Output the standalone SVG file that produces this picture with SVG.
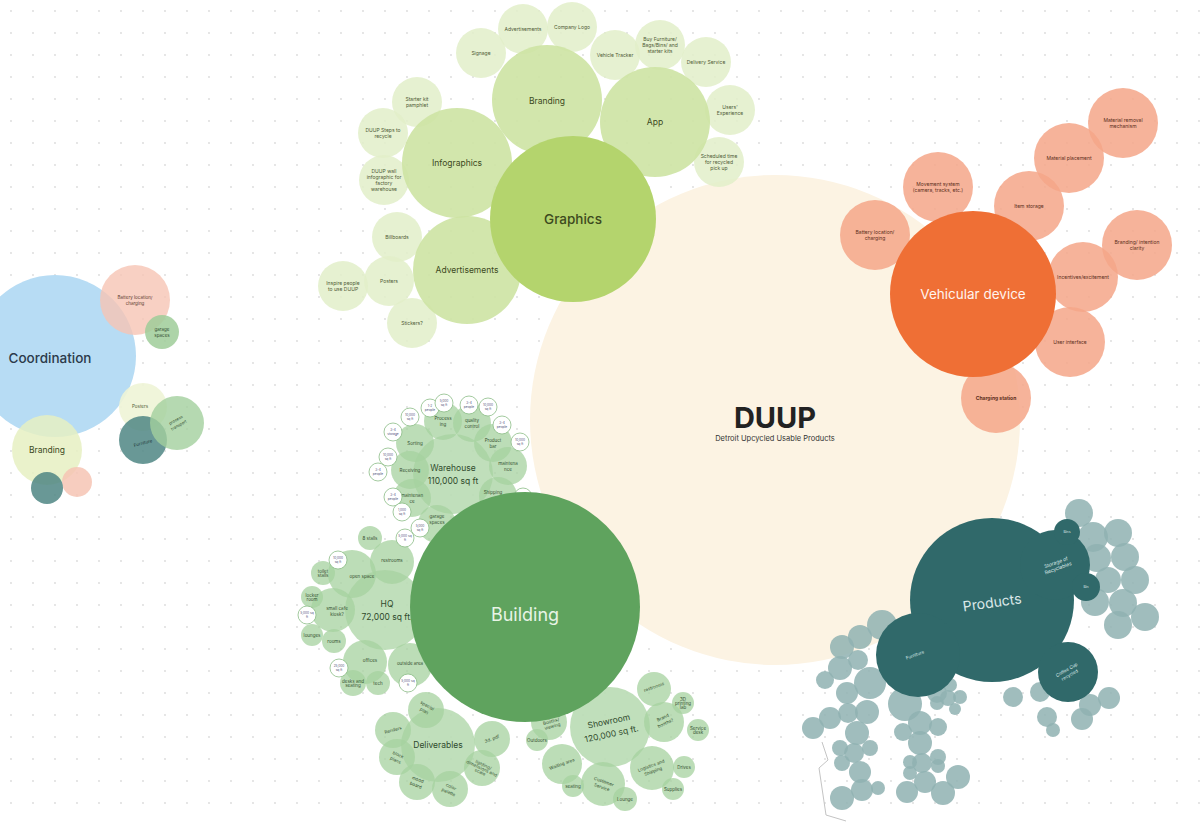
<svg xmlns="http://www.w3.org/2000/svg" width="1202" height="823" viewBox="0 0 1202 823">
<defs>
<pattern id="dots" width="22" height="22" patternUnits="userSpaceOnUse">
<circle cx="11" cy="11" r="0.9" fill="#dadada"/>
</pattern>
</defs>
<style>
text{font-family:Inter,"Noto Sans","Liberation Sans",sans-serif;text-anchor:middle;dominant-baseline:central}
.gM{fill:#b4d46d}.gS{fill:#cde3a3;opacity:.9}.gL{fill:#e2eec9;opacity:.85}
.tg{fill:#3d4a1e}.tgl{fill:#4f5a35;font-size:5px}
.vM{fill:#ef6f35}.vL{fill:#f4a688;opacity:.85}.tvl{fill:#5b2d1a;font-size:5px}
.bM{fill:#5fa35e}.bS{fill:#b9dbb4;opacity:.9}.bL{fill:#a6d19f;opacity:.75}.bW{fill:#fff;stroke:#8cbc86;stroke-width:.8}
.tb{fill:#2f4a2c}.tbl{fill:#34502f;font-size:4.5px}.tbw{fill:#4c4f78;font-size:3.2px}
.pM{fill:#30696a}.pL{fill:#8fb1b1;opacity:.85}.tp{fill:#dbe8e8}
</style>
<rect width="1202" height="823" fill="#fff"/>
<rect width="1202" height="823" fill="url(#dots)"/>

<g id="duup">
<circle cx="775" cy="420" r="245" fill="#fcf3e3"/>
</g>

<g id="connectors"></g>

<g id="graphics-cluster">
<circle class="gL" cx="481" cy="53" r="25"/>
<circle class="gL" cx="523" cy="29" r="25"/>
<circle class="gL" cx="572" cy="27" r="25"/>
<circle class="gL" cx="615" cy="55" r="25"/>
<circle class="gL" cx="660" cy="45" r="25"/>
<circle class="gL" cx="706" cy="62" r="25"/>
<circle class="gL" cx="730" cy="110" r="25"/>
<circle class="gL" cx="719" cy="162" r="25"/>
<circle class="gL" cx="417" cy="102" r="25"/>
<circle class="gL" cx="383" cy="133" r="25"/>
<circle class="gL" cx="384" cy="180" r="25"/>
<circle class="gL" cx="397" cy="237" r="25"/>
<circle class="gL" cx="389" cy="281" r="25"/>
<circle class="gL" cx="343" cy="286" r="25"/>
<circle class="gL" cx="412" cy="323" r="25"/>
<text class="tgl" x="481" y="53">Signage</text>
<text class="tgl" x="523" y="29">Advertisements</text>
<text class="tgl" x="572" y="27">Company Logo</text>
<text class="tgl" x="615" y="55">Vehicle Tracker</text>
<text class="tgl"><tspan x="660" y="39">Buy Furniture/</tspan><tspan x="660" y="45">Bags/Bins/ and</tspan><tspan x="660" y="51">starter kits</tspan></text>
<text class="tgl" x="706" y="62">Delivery Service</text>
<text class="tgl"><tspan x="730" y="107">Users'</tspan><tspan x="730" y="113">Experience</tspan></text>
<text class="tgl"><tspan x="719" y="156">Scheduled time</tspan><tspan x="719" y="162">for recycled</tspan><tspan x="719" y="168">pick up</tspan></text>
<text class="tgl"><tspan x="417" y="99">Starter kit</tspan><tspan x="417" y="105">pamphlet</tspan></text>
<text class="tgl"><tspan x="383" y="130">DUUP Steps to</tspan><tspan x="383" y="136">recycle</tspan></text>
<text class="tgl"><tspan x="384" y="171">DUUP wall</tspan><tspan x="384" y="177">infographic for</tspan><tspan x="384" y="183">factory</tspan><tspan x="384" y="189">warehouse</tspan></text>
<text class="tgl" x="397" y="237">Billboards</text>
<text class="tgl" x="389" y="281">Posters</text>
<text class="tgl"><tspan x="343" y="283">Inspire people</tspan><tspan x="343" y="289">to use DUUP</tspan></text>
<text class="tgl" x="412" y="323">Stickers?</text>
</g>
<g id="branding">
<circle class="gS" cx="547" cy="100" r="55"/>
<text class="tg" x="547" y="101" font-size="8.5">Branding</text>
</g>
<g id="app">
<circle class="gS" cx="655" cy="122" r="55"/>
<text class="tg" x="655" y="122" font-size="8.5">App</text>
</g>
<g id="infographics">
<circle class="gS" cx="457" cy="163" r="55"/>
<text class="tg" x="457" y="163" font-size="8.5">Infographics</text>
</g>
<g id="advertisements">
<circle class="gS" cx="467" cy="270" r="54"/>
<text class="tg" x="467" y="270" font-size="8.5">Advertisements</text>
</g>
<g id="graphics">
<circle class="gM" cx="573" cy="219" r="83"/>
<text class="tg" x="573" y="219" font-size="13.5" font-weight="500">Graphics</text>
</g>

<g id="vehicular-cluster">
<circle class="vL" cx="875" cy="235" r="35"/>
<circle class="vL" cx="938" cy="187" r="35"/>
<circle class="vL" cx="1029" cy="206" r="35"/>
<circle class="vL" cx="1069" cy="158" r="35"/>
<circle class="vL" cx="1123" cy="123" r="35"/>
<circle class="vL" cx="1137" cy="245" r="35"/>
<circle class="vL" cx="1083" cy="277" r="35"/>
<circle class="vL" cx="1070" cy="342" r="35"/>
<circle class="vL" cx="996" cy="398" r="35"/>
<text class="tvl"><tspan x="875" y="232">Battery location/</tspan><tspan x="875" y="238">charging</tspan></text>
<text class="tvl"><tspan x="938" y="184">Movement system</tspan><tspan x="938" y="190">(camera, tracks, etc.)</tspan></text>
<text class="tvl" x="1029" y="206">Item storage</text>
<text class="tvl" x="1069" y="158">Material placement</text>
<text class="tvl"><tspan x="1123" y="120">Material removal</tspan><tspan x="1123" y="126">mechanism</tspan></text>
<text class="tvl"><tspan x="1137" y="242">Branding/ intention</tspan><tspan x="1137" y="248">clarity</tspan></text>
<text class="tvl" x="1083" y="277">Incentives/excitement</text>
<text class="tvl" x="1070" y="342">User interface</text>
<text class="tvl" x="996" y="398" font-weight="700">Charging station</text>
</g>
<g id="vehicular-device">
<circle class="vM" cx="973" cy="294" r="83"/>
<text x="973" y="294" font-size="13.5" fill="#fff4ee">Vehicular device</text>
</g>

<g id="coordination-cluster">
<circle cx="55" cy="356" r="81" fill="#b7dcf4"/>
<text x="50" y="358" font-size="13.5" fill="#2b3a4a" font-weight="500">Coordination</text>
<circle cx="135" cy="300" r="35" fill="#f6c4b4" opacity=".8"/>
<text fill="#5b3a2e" font-size="4.5"><tspan x="135" y="297">Battery location/</tspan><tspan x="135" y="303">charging</tspan></text>
<circle cx="162" cy="332" r="17" fill="#9fcd99" opacity=".85"/>
<text fill="#2f4a2c" font-size="4.5"><tspan x="162" y="329">garage</tspan><tspan x="162" y="335">spaces</tspan></text>
<circle cx="143" cy="407" r="24" fill="#eef4d6" opacity=".9"/>
<text x="140" y="406" fill="#4f5a35" font-size="4.5">Posters</text>
<circle cx="143" cy="440" r="24" fill="#4f8684" opacity=".85"/>
<circle cx="177" cy="423" r="27" fill="#a3d09d" opacity=".8"/>
<text fill="#2f4a2c" font-size="4" transform="rotate(-30 177 422)"><tspan x="177" y="419">process</tspan><tspan x="177" y="425">transport</tspan></text>
<text x="143" y="443" fill="#1f3a3a" font-size="4.5" transform="rotate(-15 143 443)">Furniture</text>
<circle cx="47" cy="450" r="35" fill="#e6f0c2" opacity=".85"/>
<text x="47" y="450" fill="#3d4a1e" font-size="8.5">Branding</text>
<circle cx="77" cy="482" r="15" fill="#f6c4b4" opacity=".85"/>
<circle cx="47" cy="488" r="16" fill="#4f8684" opacity=".85"/>
</g>

<g id="warehouse">
<circle class="bS" cx="453" cy="474" r="40"/>
<circle class="bL" cx="415" cy="443" r="19"/>
<circle class="bL" cx="443" cy="421" r="19"/>
<circle class="bL" cx="472" cy="423" r="19"/>
<circle class="bL" cx="493" cy="443" r="19"/>
<circle class="bL" cx="508" cy="466" r="19"/>
<circle class="bL" cx="498" cy="496" r="19"/>
<circle class="bL" cx="437" cy="524" r="19"/>
<circle class="bL" cx="412" cy="498" r="19"/>
<circle class="bL" cx="410" cy="470" r="19"/>
<text class="tb" font-size="8.5"><tspan x="453" y="468">Warehouse</tspan><tspan x="453" y="481">110,000 sq ft</tspan></text>
<text class="tbl" x="415" y="443">Sorting</text>
<text class="tbl"><tspan x="443" y="418">Process</tspan><tspan x="443" y="424">ing</tspan></text>
<text class="tbl"><tspan x="472" y="420">quality</tspan><tspan x="472" y="426">control</tspan></text>
<text class="tbl"><tspan x="493" y="440">Product</tspan><tspan x="493" y="446">bar</tspan></text>
<text class="tbl"><tspan x="508" y="463">maintena</tspan><tspan x="508" y="469">nce</tspan></text>
<text class="tbl" x="493" y="492">Shipping</text>
<text class="tbl"><tspan x="437" y="516">garage</tspan><tspan x="437" y="522">spaces</tspan></text>
<text class="tbl"><tspan x="412" y="495">maintenan</tspan><tspan x="412" y="501">ce</tspan></text>
<text class="tbl" x="410" y="470">Receiving</text>
<circle class="bW" cx="393" cy="432" r="9"/>
<circle class="bW" cx="410" cy="417" r="9"/>
<circle class="bW" cx="430" cy="408" r="9"/>
<circle class="bW" cx="444" cy="403" r="9"/>
<circle class="bW" cx="469" cy="405" r="9"/>
<circle class="bW" cx="488" cy="407" r="9"/>
<circle class="bW" cx="502" cy="425" r="9"/>
<circle class="bW" cx="520" cy="442" r="9"/>
<circle class="bW" cx="388" cy="457" r="9"/>
<circle class="bW" cx="378" cy="472" r="9"/>
<circle class="bW" cx="393" cy="497" r="9"/>
<circle class="bW" cx="402" cy="512" r="9"/>
<circle class="bW" cx="420" cy="528" r="9"/>
<circle class="bW" cx="523" cy="497" r="9"/>
<text class="tbw"><tspan x="393" y="430">3-4</tspan><tspan x="393" y="434">storage</tspan></text>
<text class="tbw"><tspan x="410" y="415">10,000</tspan><tspan x="410" y="419">sq ft</tspan></text>
<text class="tbw"><tspan x="430" y="406">1-2</tspan><tspan x="430" y="410">people</tspan></text>
<text class="tbw"><tspan x="444" y="401">5,000</tspan><tspan x="444" y="405">sq ft</tspan></text>
<text class="tbw"><tspan x="469" y="403">3-4</tspan><tspan x="469" y="407">people</tspan></text>
<text class="tbw"><tspan x="488" y="405">10,000</tspan><tspan x="488" y="409">sq ft</tspan></text>
<text class="tbw"><tspan x="502" y="423">3-4</tspan><tspan x="502" y="427">people</tspan></text>
<text class="tbw"><tspan x="520" y="440">10,000</tspan><tspan x="520" y="444">sq ft</tspan></text>
<text class="tbw"><tspan x="388" y="455">10,000</tspan><tspan x="388" y="459">sq ft</tspan></text>
<text class="tbw"><tspan x="378" y="470">3-4</tspan><tspan x="378" y="474">people</tspan></text>
<text class="tbw"><tspan x="393" y="495">3-4</tspan><tspan x="393" y="499">people</tspan></text>
<text class="tbw"><tspan x="402" y="510">1,000</tspan><tspan x="402" y="514">sq ft</tspan></text>
<text class="tbw"><tspan x="420" y="526">5,000</tspan><tspan x="420" y="530">sq ft</tspan></text>
<text class="tbw"><tspan x="523" y="495">1,000</tspan><tspan x="523" y="499">sq ft</tspan></text>
</g>

<g id="hq">
<circle class="bL" cx="370" cy="538" r="12"/>
<circle class="bL" cx="323" cy="573" r="12"/>
<circle class="bL" cx="312" cy="597" r="11"/>
<circle class="bL" cx="312" cy="635" r="11"/>
<circle class="bL" cx="334" cy="641" r="12"/>
<circle class="bL" cx="353" cy="683" r="13"/>
<circle class="bL" cx="378" cy="683" r="12"/>
<circle class="bS" cx="385" cy="610" r="40"/>
<circle class="bL" cx="392" cy="562" r="22"/>
<circle class="bL" cx="352" cy="574" r="24"/>
<circle class="bL" cx="333" cy="610" r="22"/>
<circle class="bL" cx="365" cy="662" r="22"/>
<circle class="bL" cx="410" cy="665" r="22"/>
<text class="tb" font-size="8.5"><tspan x="387" y="604">HQ</tspan><tspan x="387" y="617">72,000 sq ft.</tspan></text>
<text class="tbl" x="392" y="560">restrooms</text>
<text class="tbl" x="362" y="576">open space</text>
<text class="tbl"><tspan x="337" y="608">small cafe</tspan><tspan x="337" y="614">kiosk?</tspan></text>
<text class="tbl" x="370" y="660">offices</text>
<text class="tbl" x="410" y="663">outside area</text>
<text class="tbl" x="370" y="538">8 stalls</text>
<text class="tbl" font-size="3.5"><tspan x="323" y="571">toilet</tspan><tspan x="323" y="575">stalls</tspan></text>
<text class="tbl" font-size="3.5"><tspan x="312" y="595">locker</tspan><tspan x="312" y="599">room</tspan></text>
<text class="tbl" font-size="3.5" x="312" y="635">lounges</text>
<text class="tbl" font-size="3.5" x="334" y="641">rooms</text>
<text class="tbl" font-size="3.5"><tspan x="353" y="681">desks and</tspan><tspan x="353" y="685">seating</tspan></text>
<text class="tbl" font-size="3.5" x="378" y="683">tech</text>
<circle class="bW" cx="338" cy="560" r="9"/>
<circle class="bW" cx="307" cy="615" r="9"/>
<circle class="bW" cx="339" cy="668" r="9"/>
<circle class="bW" cx="405" cy="538" r="9"/>
<circle class="bW" cx="408" cy="683" r="9"/>
<text class="tbw"><tspan x="338" y="558">10,000</tspan><tspan x="338" y="562">sq ft</tspan></text>
<text class="tbw"><tspan x="307" y="613">5,000 sq</tspan><tspan x="307" y="617">ft</tspan></text>
<text class="tbw"><tspan x="339" y="666">25,000</tspan><tspan x="339" y="670">sq ft</tspan></text>
<text class="tbw"><tspan x="405" y="536">5,000 sq</tspan><tspan x="405" y="540">ft</tspan></text>
<text class="tbw"><tspan x="408" y="681">5,000 sq</tspan><tspan x="408" y="685">ft</tspan></text>
</g>

<g id="deliverables">
<circle class="bS" cx="438" cy="745" r="37"/>
<circle class="bL" cx="426" cy="710" r="18"/>
<circle class="bL" cx="393" cy="730" r="18"/>
<circle class="bL" cx="397" cy="757" r="18"/>
<circle class="bL" cx="417" cy="782" r="18"/>
<circle class="bL" cx="450" cy="789" r="18"/>
<circle class="bL" cx="482" cy="768" r="18"/>
<circle class="bL" cx="492" cy="739" r="18"/>
<text class="tb" x="438" y="745" font-size="8.5">Deliverables</text>
<text class="tbl" transform="rotate(30 426 708)"><tspan x="426" y="705">special</tspan><tspan x="426" y="711">plan</tspan></text>
<text class="tbl" x="393" y="730" transform="rotate(-15 393 730)">Renders</text>
<text class="tbl" transform="rotate(25 397 757)"><tspan x="397" y="754">block</tspan><tspan x="397" y="760">plans</tspan></text>
<text class="tbl" transform="rotate(20 417 782)"><tspan x="417" y="779">mood</tspan><tspan x="417" y="785">board</tspan></text>
<text class="tbl" transform="rotate(25 450 789)"><tspan x="450" y="786">color</tspan><tspan x="450" y="792">palette</tspan></text>
<text class="tbl" font-size="3.5" transform="rotate(25 482 768)"><tspan x="482" y="764">lighting/</tspan><tspan x="482" y="768">dimensions and</tspan><tspan x="482" y="772">scale</tspan></text>
<text class="tbl" x="492" y="739" transform="rotate(-20 492 739)">3d. pdf</text>
</g>

<g id="showroom">
<circle class="bS" cx="610" cy="727" r="40"/>
<circle class="bL" cx="654" cy="689" r="17"/>
<circle class="bL" cx="664" cy="722" r="20"/>
<circle class="bL" cx="652" cy="768" r="22"/>
<circle class="bL" cx="603" cy="784" r="22"/>
<circle class="bL" cx="562" cy="764" r="20"/>
<circle class="bL" cx="549" cy="722" r="18"/>
<circle class="bL" cx="537" cy="740" r="11"/>
<circle class="bL" cx="573" cy="786" r="11"/>
<circle class="bL" cx="625" cy="799" r="12"/>
<circle class="bL" cx="683" cy="703" r="11"/>
<circle class="bL" cx="698" cy="730" r="11"/>
<circle class="bL" cx="684" cy="767" r="11"/>
<circle class="bL" cx="673" cy="789" r="11"/>
<text class="tb" font-size="8.5" transform="rotate(-12 610 727)"><tspan x="610" y="721">Showroom</tspan><tspan x="610" y="734">120,000 sq ft.</tspan></text>
<text class="tbl" x="654" y="687" transform="rotate(-20 654 687)">restrooms</text>
<text class="tbl" transform="rotate(-25 664 720)"><tspan x="664" y="717">Brand</tspan><tspan x="664" y="723">booths?</tspan></text>
<text class="tbl" transform="rotate(-20 652 768)"><tspan x="652" y="765">Logistics and</tspan><tspan x="652" y="771">Shipping</tspan></text>
<text class="tbl" transform="rotate(20 603 784)"><tspan x="603" y="781">Customer</tspan><tspan x="603" y="787">Service</tspan></text>
<text class="tbl" x="562" y="764" transform="rotate(-20 562 764)">Waiting area</text>
<text class="tbl" font-size="4" transform="rotate(-15 551 721)"><tspan x="551" y="716">Recycling</tspan><tspan x="551" y="721">Booths/</tspan><tspan x="551" y="726">viewing</tspan></text>
<text class="tbl" font-size="3.5" x="537" y="740">Outdoors</text>
<text class="tbl" font-size="3.5" x="573" y="786">seating</text>
<text class="tbl" font-size="3.5" x="625" y="799">Lounge</text>
<text class="tbl" font-size="3.2"><tspan x="683" y="699">3D</tspan><tspan x="683" y="703">printing</tspan><tspan x="683" y="707">lab</tspan></text>
<text class="tbl" font-size="3.2"><tspan x="698" y="728">Service</tspan><tspan x="698" y="732">desk</tspan></text>
<text class="tbl" font-size="3.5" x="684" y="767">Drives</text>
<text class="tbl" font-size="3.5" x="673" y="789">Supplies</text>
</g>

<g id="building">
<circle class="bM" cx="525" cy="607" r="115"/>
<text x="525" y="614" font-size="18" fill="#e8f4e6">Building</text>
</g>

<g id="products-leaves">
<circle class="pL" cx="1079" cy="513" r="14"/>
<circle class="pL" cx="1093" cy="537" r="15"/>
<circle class="pL" cx="1118" cy="533" r="14"/>
<circle class="pL" cx="1097" cy="558" r="14"/>
<circle class="pL" cx="1125" cy="557" r="14"/>
<circle class="pL" cx="1108" cy="580" r="13"/>
<circle class="pL" cx="1135" cy="580" r="14"/>
<circle class="pL" cx="1095" cy="602" r="14"/>
<circle class="pL" cx="1123" cy="603" r="14"/>
<circle class="pL" cx="1118" cy="625" r="14"/>
<circle class="pL" cx="1145" cy="617" r="14"/>
<circle class="pL" cx="1090" cy="705" r="11"/>
<circle class="pL" cx="1109" cy="698" r="11"/>
<circle class="pL" cx="1082" cy="719" r="11"/>
<circle class="pL" cx="1040" cy="692" r="10"/>
<circle class="pL" cx="1047" cy="717" r="10"/>
<circle class="pL" cx="1053" cy="730" r="7"/>
<circle class="pL" cx="882" cy="625" r="15"/>
<circle class="pL" cx="860" cy="637" r="12"/>
<circle class="pL" cx="842" cy="647" r="12"/>
<circle class="pL" cx="858" cy="660" r="10"/>
<circle class="pL" cx="840" cy="668" r="12"/>
<circle class="pL" cx="825" cy="680" r="9"/>
<circle class="pL" cx="870" cy="683" r="16"/>
<circle class="pL" cx="847" cy="693" r="11"/>
<circle class="pL" cx="867" cy="712" r="12"/>
<circle class="pL" cx="848" cy="713" r="10"/>
<circle class="pL" cx="830" cy="718" r="11"/>
<circle class="pL" cx="813" cy="728" r="11"/>
<circle class="pL" cx="857" cy="733" r="12"/>
<circle class="pL" cx="840" cy="748" r="8"/>
<circle class="pL" cx="854" cy="753" r="10"/>
<circle class="pL" cx="870" cy="748" r="8"/>
<circle class="pL" cx="842" cy="763" r="8"/>
<circle class="pL" cx="860" cy="772" r="11"/>
<circle class="pL" cx="862" cy="790" r="11"/>
<circle class="pL" cx="878" cy="788" r="7"/>
<circle class="pL" cx="842" cy="798" r="12"/>
<circle class="pL" cx="905" cy="704" r="17"/>
<circle class="pL" cx="903" cy="732" r="9"/>
<circle class="pL" cx="920" cy="723" r="12"/>
<circle class="pL" cx="938" cy="727" r="9"/>
<circle class="pL" cx="920" cy="743" r="12"/>
<circle class="pL" cx="910" cy="762" r="7"/>
<circle class="pL" cx="922" cy="763" r="10"/>
<circle class="pL" cx="938" cy="757" r="8"/>
<circle class="pL" cx="910" cy="773" r="7"/>
<circle class="pL" cx="925" cy="782" r="11"/>
<circle class="pL" cx="938" cy="766" r="7"/>
<circle class="pL" cx="907" cy="792" r="11"/>
<circle class="pL" cx="943" cy="793" r="12"/>
<circle class="pL" cx="958" cy="777" r="12"/>
<circle class="pL" cx="937" cy="693" r="10"/>
<circle class="pL" cx="950" cy="685" r="7"/>
<circle class="pL" cx="937" cy="703" r="7"/>
<circle class="pL" cx="948" cy="698" r="8"/>
<circle class="pL" cx="960" cy="697" r="7"/>
<circle class="pL" cx="955" cy="709" r="6"/>
<circle class="pL" cx="1013" cy="697" r="10"/>
<path d="M822 742 L828 760 L819 768 L826 815 L846 821" fill="none" stroke="#c4c4c4" stroke-width="1"/>
</g>

<g id="products">
<circle class="pM" cx="992" cy="600" r="82"/>
<circle class="pM" cx="1055" cy="565" r="35"/>
<circle class="pM" cx="1067" cy="532" r="13"/>
<circle class="pM" cx="1086" cy="587" r="14"/>
<circle class="pM" cx="918" cy="655" r="42"/>
<circle class="pM" cx="1068" cy="672" r="30"/>
<text class="tp" x="992" y="602" font-size="14" transform="rotate(-8 992 602)">Products</text>
<text class="tp" font-size="5" transform="rotate(-20 1057 565)"><tspan x="1057" y="562">Storage of</tspan><tspan x="1057" y="568">Recyclables</tspan></text>
<text class="tp" x="1067" y="532" font-size="3.5">Bins</text>
<text class="tp" x="1086" y="587" font-size="3.5">Bin</text>
<text class="tp" x="915" y="655" font-size="4.5" transform="rotate(-20 915 655)">Furniture</text>
<text class="tp" font-size="4.5" transform="rotate(-30 1068 672)"><tspan x="1068" y="669">Coffee Cup</tspan><tspan x="1068" y="675">recycled</tspan></text>
</g>

<g id="duup-label">
<text x="775" y="417" font-size="29" font-weight="700" fill="#222">DUUP</text>
<text x="775" y="438" font-size="7.5" fill="#333">Detroit Upcycled Usable Products</text>
</g>
</svg>
